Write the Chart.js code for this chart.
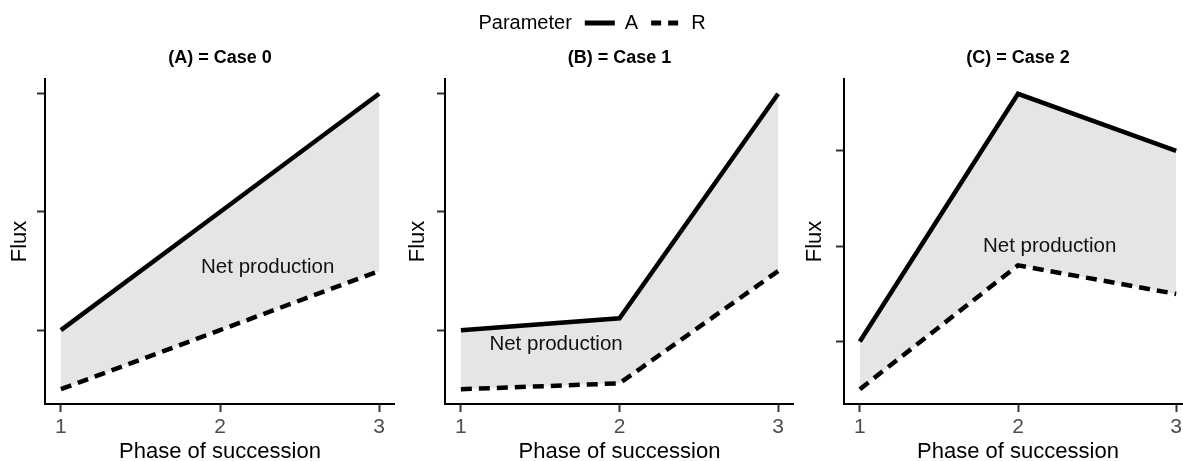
<!DOCTYPE html>
<html>
<head>
<meta charset="utf-8">
<script src="https://cdn.jsdelivr.net/npm/chart.js@4.4.1/dist/chart.umd.min.js"></script>
<style>
html, body { margin: 0; padding: 0; background: #fff; overflow: hidden; width: 1183px; height: 461px; }
canvas { position: absolute; top: 0; }
</style>
</head>
<body>
<canvas id="caseA"></canvas>
<canvas id="caseB"></canvas>
<canvas id="caseC"></canvas>
<script>
/* data */
const phases = [1, 2, 3]
const fluxTicks = [1, 2, 3]
const caseTitles = ['(A) = Case 0', '(B) = Case 1', '(C) = Case 2']
const case0A = [1, 2, 3]
const case0R = [0.5, 1, 1.5]
const case1A = [1, 1.1, 3]
const case1R = [0.5, 0.55, 1.5]
const case2A = [1, 3.6, 3]
const case2R = [0.5, 1.8, 1.5]
// where "Net production" sits, in data units (phase, flux)
const noteX = [2.3, 1.6, 2.2]
const noteY = [1.53, 0.88, 2.0]

Chart.defaults.font.family = '"Liberation Sans", Arial, Helvetica, sans-serif'
Chart.defaults.color = '#000'

const H = 465
const panels = [
    { id: 'caseA', left: 0, width: 395, axisWidth: 45, fluxPad: 7, a: case0A, r: case0R, legend: false },
    { id: 'caseB', left: 350, width: 444, axisWidth: 95, fluxPad: 55, a: case1A, r: case1R, legend: true },
    { id: 'caseC', left: 790, width: 402, axisWidth: 54, fluxPad: 12, a: case2A, r: case2R, legend: false }
]

// ggplot style 5% expansion of the data range
function expand(vals) {
    const lo = Math.min(...vals), hi = Math.max(...vals)
    const pad = (hi - lo) * 0.05
    return [lo - pad, hi + pad]
}

function noteAt(text, px, py) {
    return {
        id: 'note',
        afterDatasetsDraw(chart) {
            const ctx = chart.ctx
            ctx.save()
            ctx.font = '20.5px "Liberation Sans", Arial, sans-serif'
            ctx.fillStyle = '#111'
            ctx.textAlign = 'center'
            ctx.textBaseline = 'middle'
            ctx.fillText(text, chart.scales.x.getPixelForValue(px), chart.scales.y.getPixelForValue(py))
            ctx.restore()
        }
    }
}

const legendEntries = [
    { text: 'Parameter', pointStyle: 'line', strokeStyle: 'rgba(0,0,0,0)', lineWidth: 0, fontColor: '#000' },
    { text: 'A', pointStyle: 'line', strokeStyle: '#000', lineWidth: 5, lineDash: [], fontColor: '#000' },
    { text: 'R', pointStyle: 'line', strokeStyle: '#000', lineWidth: 5, lineDash: [10, 7], fontColor: '#000' }
]

panels.forEach(function (p, i) {
    const canvas = document.getElementById(p.id)
    canvas.width = p.width
    canvas.height = H
    canvas.style.left = p.left + 'px'

    const xr = expand(phases)
    const yr = expand(p.a.concat(p.r))

    new Chart(canvas, {
        type: 'line',
        data: {
            datasets: [{
                label: 'A',
                data: phases.map((x, k) => ({ x: x, y: p.a[k] })),
                borderColor: '#000',
                borderWidth: 4.5,
                backgroundColor: '#e5e5e5',
                fill: '+1',
                pointRadius: 0,
                tension: 0
            }, {
                label: 'R',
                data: phases.map((x, k) => ({ x: x, y: p.r[k] })),
                borderColor: '#000',
                borderWidth: 4.5,
                borderDash: [11, 7],
                fill: false,
                pointRadius: 0,
                tension: 0
            }]
        },
        options: {
            responsive: false,
            animation: false,
            events: [],
            layout: { padding: { top: p.legend ? 0 : 43, left: 0, right: 0, bottom: 0 } },
            scales: {
                x: {
                    type: 'linear',
                    min: xr[0],
                    max: xr[1],
                    afterBuildTicks: s => { s.ticks = phases.map(v => ({ value: v })) },
                    afterFit: s => { s.height = H - 404 },
                    ticks: { color: '#4d4d4d', font: { size: 21 }, padding: 3, callback: v => String(v) },
                    grid: { drawOnChartArea: false, tickLength: 8, tickColor: '#333', tickWidth: 2 },
                    border: { display: true, color: '#000', width: 2 },
                    title: { display: true, text: 'Phase of succession', font: { size: 22 }, color: '#000', padding: { top: 0, bottom: 0 } }
                },
                y: {
                    type: 'linear',
                    min: yr[0],
                    max: yr[1],
                    afterBuildTicks: s => { s.ticks = fluxTicks.map(v => ({ value: v })) },
                    afterFit: s => { s.width = p.axisWidth },
                    ticks: { display: false },
                    grid: { drawOnChartArea: false, tickLength: 8, tickColor: '#333', tickWidth: 2 },
                    border: { display: true, color: '#000', width: 2 },
                    title: { display: true, text: 'Flux', font: { size: 22 }, color: '#000', padding: { top: p.fluxPad, bottom: 0 } }
                }
            },
            plugins: {
                filler: { drawTime: 'beforeDatasetsDraw' },
                tooltip: { enabled: false },
                title: {
                    display: true,
                    text: caseTitles[i],
                    fullSize: false,
                    font: { size: 18, weight: 'bold' },
                    color: '#000',
                    padding: { top: 4.7, bottom: 9.7 }
                },
                legend: {
                    display: p.legend,
                    position: 'top',
                    weight: 3000,
                    labels: {
                        usePointStyle: true,
                        pointStyleWidth: 30,
                        padding: 13,
                        color: '#000',
                        font: { size: 20 },
                        generateLabels: () => legendEntries.map(e => Object.assign({}, e))
                    }
                }
            }
        },
        plugins: [noteAt('Net production', noteX[i], noteY[i])]
    })
})
</script>
</body>
</html>
